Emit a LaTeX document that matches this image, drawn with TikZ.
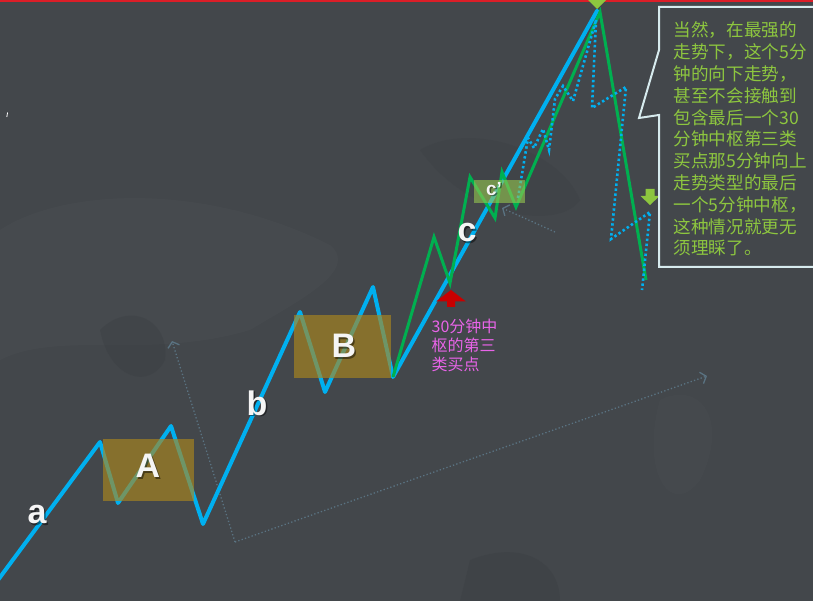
\documentclass[tikz,border=0pt]{standalone}
\usepackage{fontspec}
\setmainfont{Liberation Sans}
\newfontfamily\cjk{Noto Sans CJK SC}
\usetikzlibrary{arrows.meta}
\definecolor{bg}{RGB}{67,71,75}
\definecolor{bgdark}{RGB}{56,60,64}
\definecolor{bglight}{RGB}{78,82,86}
\definecolor{lineblue}{RGB}{0,176,240}
\definecolor{linegreen}{RGB}{0,176,80}
\definecolor{boxgold}{RGB}{170,135,30}
\definecolor{boxgreen}{RGB}{150,200,80}
\definecolor{txtgreen}{RGB}{141,198,63}
\definecolor{magtxt}{RGB}{232,100,232}
\definecolor{faint}{RGB}{90,115,130}
\definecolor{redmark}{RGB}{200,0,0}
\definecolor{redtop}{RGB}{220,30,40}
\definecolor{calloutedge}{RGB}{215,235,238}
\tikzset{
  bluewave/.style={draw=lineblue, line width=4pt, line join=round, line cap=round},
  greenwave/.style={draw=linegreen, line width=3pt, line join=miter},
  dotwave/.style={draw=lineblue, line width=2.6pt, dash pattern=on 2.4pt off 2.6pt},
  zhongshu/.style={fill=boxgold, fill opacity=0.65},
  smallzs/.style={fill=boxgreen, fill opacity=0.6},
  lbl/.style={text=white!92!gray, inner sep=0pt, font=\bfseries\fontsize{34}{34}\selectfont},
  lblshadow/.style={text=black, text opacity=0.45, inner sep=0pt, font=\bfseries\fontsize{34}{34}\selectfont},
  faintarrow/.style={draw=faint, line width=1.3pt, dash pattern=on 1.3pt off 2.2pt, -{Straight Barb[length=5pt,width=12pt,line width=1.3pt]}},
  calloutline/.style={text=txtgreen, inner sep=0pt, anchor=base west, font=\cjk\fontsize{17.6}{17.6}\selectfont},
  magline/.style={text=magtxt, inner sep=0pt, anchor=base west, font=\cjk\fontsize{16}{16}\selectfont},
}
\begin{document}
\begin{tikzpicture}[x=1pt,y=-1pt]
\useasboundingbox (0,0) rectangle (813,601);
\clip (0,0) rectangle (813,601);
% background
\fill[bg] (0,0) rectangle (813,601);
\fill[bglight, opacity=0.3] (0,230) .. controls (60,190) and (200,180) .. (330,245) .. controls (360,270) and (300,300) .. (250,330) .. controls (150,360) and (60,330) .. (0,360) -- cycle;
\fill[bgdark, opacity=0.3] (100,330) .. controls (130,300) and (170,320) .. (165,360) .. controls (150,390) and (110,380) .. (100,330) -- cycle;
\fill[bgdark, opacity=0.25] (420,150) .. controls (470,120) and (560,150) .. (580,200) .. controls (560,230) and (470,220) .. (420,150) -- cycle;
\fill[bgdark, opacity=0.3] (470,560) .. controls (520,540) and (560,560) .. (560,601) -- (460,601) -- cycle;
\fill[bglight, opacity=0.25] (660,400) .. controls (700,380) and (730,420) .. (700,480) .. controls (670,520) and (640,470) .. (660,400) -- cycle;
\draw[white, line width=0.8pt] (7.6,112.5) -- (6.8,117);
% top red line
\fill[redtop] (0,0) rectangle (813,1.6);
% faint dotted arrows
\coordinate (fv) at (235,542);
\coordinate (fa) at (172,341);
\coordinate (fb) at (707,376);
\coordinate (fc) at (555,232);
\coordinate (fd) at (502,208);
\draw[faintarrow] (fv) -- (fa);
\draw[faintarrow] (fv) -- (fb);
\draw[faintarrow] (fc) -- (fd);
% blue 30-min line
\coordinate (b0) at (-2,580);
\coordinate (b1) at (100,442);
\coordinate (b2) at (118,503);
\coordinate (b3) at (171,426);
\coordinate (b4) at (203,524);
\coordinate (b5) at (300,312);
\coordinate (b6) at (325,392);
\coordinate (b7) at (373,287);
\coordinate (b8) at (393,377);
\coordinate (top) at (597,11);
\draw[bluewave] (b0) -- (b1) -- (b2) -- (b3) -- (b4) -- (b5) -- (b6) -- (b7) -- (b8) -- (top);
% green 5-min line
\coordinate (g1) at (434,237);
\coordinate (g2) at (450,283);
\coordinate (g3) at (470,177);
\coordinate (g4) at (495,218);
\coordinate (g5) at (502,172);
\coordinate (g6) at (516,207);
\coordinate (gt) at (600,12);
\coordinate (ge) at (646,280);
\draw[greenwave] (b8) -- (g1) -- (g2) -- (g3) -- (g4) -- (g5) -- (g6) -- (gt) -- (ge);
% dotted 1-min lines
\coordinate (d0) at (518,198);
\coordinate (d1) at (528,138);
\coordinate (d2) at (534,148);
\coordinate (d3) at (543,129);
\coordinate (d4) at (549,150);
\coordinate (d5) at (555,99);
\coordinate (d6) at (563,86);
\coordinate (d7) at (573,101);
\coordinate (dt) at (596,20);
\draw[dotwave] (d0) -- (d1) -- (d2) -- (d3) -- (d4) -- (d5) -- (d6) -- (d7) -- (dt);
\coordinate (e1) at (592,108);
\coordinate (e2) at (626,87);
\coordinate (e3) at (611,239);
\coordinate (e4) at (650,212);
\coordinate (e5) at (642,290);
\draw[dotwave] (dt) -- (e1) -- (e2) -- (e3) -- (e4) -- (e5);
% zhongshu boxes
\path[zhongshu] (103,439) rectangle (194,501);
\path[zhongshu] (294,315) rectangle (391,378);
\path[smallzs] (474,180) rectangle (525,203);
% labels
\node[lblshadow] (as) at (38.5,516.5) {a};
\node[lbl] (la) at (37,515) {a};
\node[lblshadow] (As) at (149.5,467.5) {A};
\node[lbl] (lA) at (148,466) {A};
\node[lblshadow] (bs) at (258.5,404.5) {b};
\node[lbl] (lb) at (257,403) {b};
\node[lblshadow] (Bs) at (345.5,347.5) {B};
\node[lbl] (lB) at (344,346) {B};
\node[lblshadow] (cs) at (468.5,234.5) {c};
\node[lbl] (lc) at (467,233) {c};
\node[text=black, text opacity=0.45, inner sep=0pt, font=\bfseries\fontsize{19}{19}\selectfont] (cps) at (495.5,190.5) {c'};
\node[text=white!92!gray, inner sep=0pt, font=\bfseries\fontsize{19}{19}\selectfont] (lcp) at (494,189) {c'};
% third buy point marker
\fill[redmark] (436,301.5) -- (451,290) -- (466,301.5) -- (455,301.5) -- (455,307) -- (447,307) -- (447,301.5) -- cycle;
\node[magline] (m1) at (431.5,332) {30分钟中};
\node[magline] (m2) at (431.5,351) {枢的第三};
\node[magline] (m3) at (431.5,370) {类买点};
% top marker
\fill[txtgreen] (588,0) -- (597,9) -- (606,0) -- cycle;
% small green down arrow
\fill[txtgreen] (645.5,189) -- (654.5,189) -- (654.5,196) -- (659.5,196) -- (650,205) -- (640.5,196) -- (645.5,196) -- cycle;
% callout
\draw[calloutedge, line width=2pt, line join=miter] (659,50) -- (659,7) -- (830,7) -- (830,267) -- (659,267) -- (659,115) -- (639,118) -- cycle;
\foreach \t [count=\i from 0] in {{当然，在最强的},{走势下，这个5分},{钟的向下走势，},{甚至不会接触到},{包含最后一个30},{分钟中枢第三类},{买点那5分钟向上},{走势类型的最后},{一个5分钟中枢，},{这种情况就更无},{须理睬了。}}{
  \node[calloutline] (cl\i) at (673.5,{37+21.8*\i}) {\t};
}
\end{tikzpicture}
\end{document}
